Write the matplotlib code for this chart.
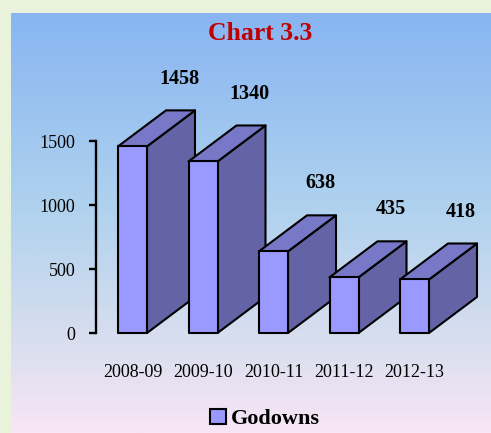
import numpy as np
import matplotlib
matplotlib.use("Agg")
import matplotlib.pyplot as plt
from matplotlib.patches import Polygon, Rectangle
from matplotlib.colors import LinearSegmentedColormap

categories = ["2008-09", "2009-10", "2010-11", "2011-12", "2012-13"]
values = [1458, 1340, 638, 435, 418]
yticks = [0, 500, 1000, 1500]
series_name = "Godowns"
title = "Chart 3.3"

W, H, DPI = 491, 433, 100
fig = plt.figure(figsize=(W / DPI, H / DPI), dpi=DPI)
fig.patch.set_facecolor("#E9F3DC")
plt.rcParams["font.family"] = ["Liberation Serif", "DejaVu Serif"]

# gradient panel
bg = fig.add_axes([11 / W, 0, 1 - 11 / W, 1 - 13 / H])
bg.set_axis_off()
cmap = LinearSegmentedColormap.from_list(
    "g", [(0, "#F8E6F6"), (0.22, "#D8DEEE"), (0.55, "#AED1EE"), (1.0, "#88B5F2")])
grad = np.linspace(0, 1, 256).reshape(-1, 1)
bg.imshow(grad, aspect="auto", cmap=cmap, origin="lower", extent=[0, 1, 0, 1])

# main axes
y0_px, y1500_px = 333, 141
spine_px = 96
c0_px, step_px = 132.5, 70.5
x_left = -(c0_px - spine_px) / step_px
x_right = 4.5
right_px = c0_px + step_px * x_right
ax = fig.add_axes([spine_px / W, 1 - y0_px / H, (right_px - spine_px) / W,
                   (y0_px - y1500_px) / H])
ax.set_xlim(x_left, x_right)
ax.set_ylim(0, 1500)
ax.patch.set_alpha(0)
for s in ["top", "right", "bottom"]:
    ax.spines[s].set_visible(False)
ax.spines["left"].set_linewidth(1.7)
ax.set_yticks(yticks)
ax.set_yticklabels([str(t) for t in yticks], fontsize=13)
ax.tick_params(axis="y", length=5, width=1.7, pad=10)
ax.set_xticks(range(len(categories)))
ax.set_xticklabels(categories, fontsize=13)
ax.tick_params(axis="x", length=0, pad=22)

bw = 29 / step_px
dx = 48 / step_px
dy = 36 / ((y0_px - y1500_px) / 1500)
front_c = "#9999FF"
side_c = "#6363A5"
top_c = "#7878C8"
lw = 1.5
for i, v in enumerate(values):
    xl, xr = i - bw / 2, i + bw / 2
    side = Polygon([(xr, 0), (xr + dx, dy), (xr + dx, v + dy), (xr, v)],
                   closed=True, facecolor=side_c, edgecolor="black", lw=lw,
                   clip_on=False, joinstyle="round")
    top = Polygon([(xl, v), (xl + dx, v + dy), (xr + dx, v + dy), (xr, v)],
                  closed=True, facecolor=top_c, edgecolor="black", lw=lw,
                  clip_on=False, joinstyle="round")
    front = Rectangle((xl, 0), bw, v, facecolor=front_c, edgecolor="black",
                      lw=lw, clip_on=False, joinstyle="round")
    ax.add_patch(side)
    ax.add_patch(top)
    ax.add_patch(front)
    ax.text(i + 0.66, v + 530, str(v), ha="center", va="center",
            fontsize=14.5, fontweight="bold", clip_on=False)

fig.text(260 / W, 1 - 34 / H, title, ha="center", va="center",
         fontsize=18.5, fontweight="bold", color="#C00000")

# legend
lg = fig.legend(handles=[Rectangle((0, 0), 1, 1, facecolor=front_c,
                                   edgecolor="black", lw=1.5)],
                labels=[series_name], loc="center",
                bbox_to_anchor=(265 / W, 1 - 419 / H), frameon=False,
                prop={"size": 16, "weight": "bold"}, handlelength=0.7,
                handleheight=0.7, handletextpad=0.2)

fig.savefig("out.png", dpi=DPI, facecolor=fig.get_facecolor())
